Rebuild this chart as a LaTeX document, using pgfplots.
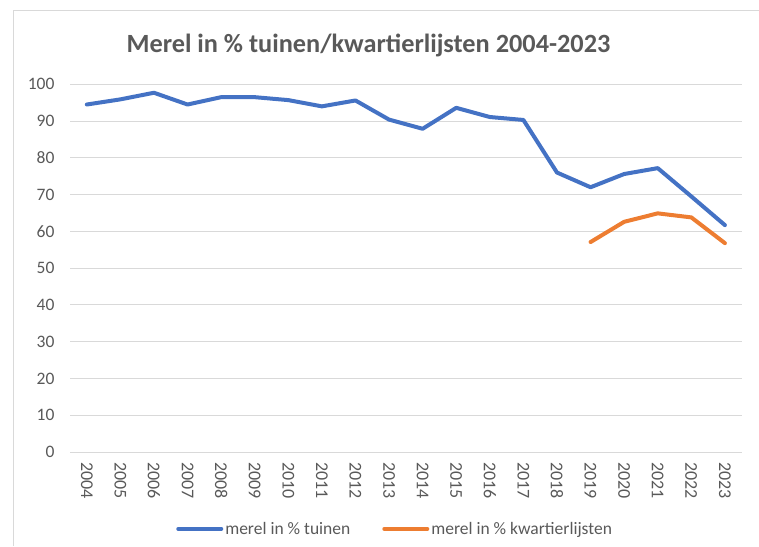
\documentclass[border=0pt]{standalone}
\usepackage{pgfplots}
\pgfplotsset{compat=1.18}
\usepackage{fontspec}
\setmainfont{Carlito}
\definecolor{xlblue}{HTML}{4472C4}
\definecolor{xlorange}{HTML}{ED7D31}
\definecolor{txtgray}{HTML}{595959}
\definecolor{gridgray}{HTML}{D9D9D9}
\begin{document}
\begin{tikzpicture}
\path[use as bounding box] (0pt,0pt) rectangle (759pt,546pt);
\draw[gridgray, line width=1pt] (13pt,0pt) -- (13pt,535pt) -- (759pt,535pt);
\node[txtgray, font=\fontsize{26.3}{30}\selectfont\bfseries] at (368.5pt,501pt) {Merel in \% tuinen/kwartierlijsten 2004-2023};
\begin{axis}[
  at={(70pt,94pt)}, anchor=south west,
  width=671.7pt, height=367.7pt, scale only axis,
  xmin=2003.5, xmax=2023.5, ymin=0, ymax=100,
  xtick={2004,...,2023}, ytick={0,10,...,100},
  axis line style={draw=none},
  tick style={draw=none},
  ymajorgrids, grid style={gridgray, line width=1pt},
  /pgf/number format/assume math mode=true,
  /pgf/number format/1000 sep={},
  ticklabel style={txtgray, font=\fontsize{17.5}{20}\selectfont},
  yticklabel style={xshift=-12pt},
  xticklabel style={font=\fontsize{18}{20}\selectfont, rotate=-90, anchor=west, xshift=7pt, yshift=0pt},
  legend columns=2,
  legend style={at={(0.484,-0.209)}, anchor=center, draw=none, fill=none,
    font=\fontsize{17.5}{20}\selectfont, text=txtgray,
    /tikz/every even column/.append style={column sep=30pt},
    inner sep=0pt},
  legend image code/.code={\draw[#1] (0pt,0pt) -- (43pt,0pt);},
  legend cell align=left,
]
\addplot[xlblue, line width=4pt, line join=round, line cap=round] coordinates {
(2004,94.5) (2005,95.9) (2006,97.7) (2007,94.5) (2008,96.5) (2009,96.5)
(2010,95.7) (2011,94.0) (2012,95.6) (2013,90.4) (2014,87.9) (2015,93.6)
(2016,91.1) (2017,90.3) (2018,76.0) (2019,72.0) (2020,75.6) (2021,77.2)
(2022,69.5) (2023,61.7)};
\addlegendentry{merel in \% tuinen}
\addplot[xlorange, line width=4pt, line join=round, line cap=round] coordinates {
(2019,57.1) (2020,62.6) (2021,64.9) (2022,63.8) (2023,56.8)};
\addlegendentry{merel in \% kwartierlijsten}
\end{axis}
\end{tikzpicture}
\end{document}
